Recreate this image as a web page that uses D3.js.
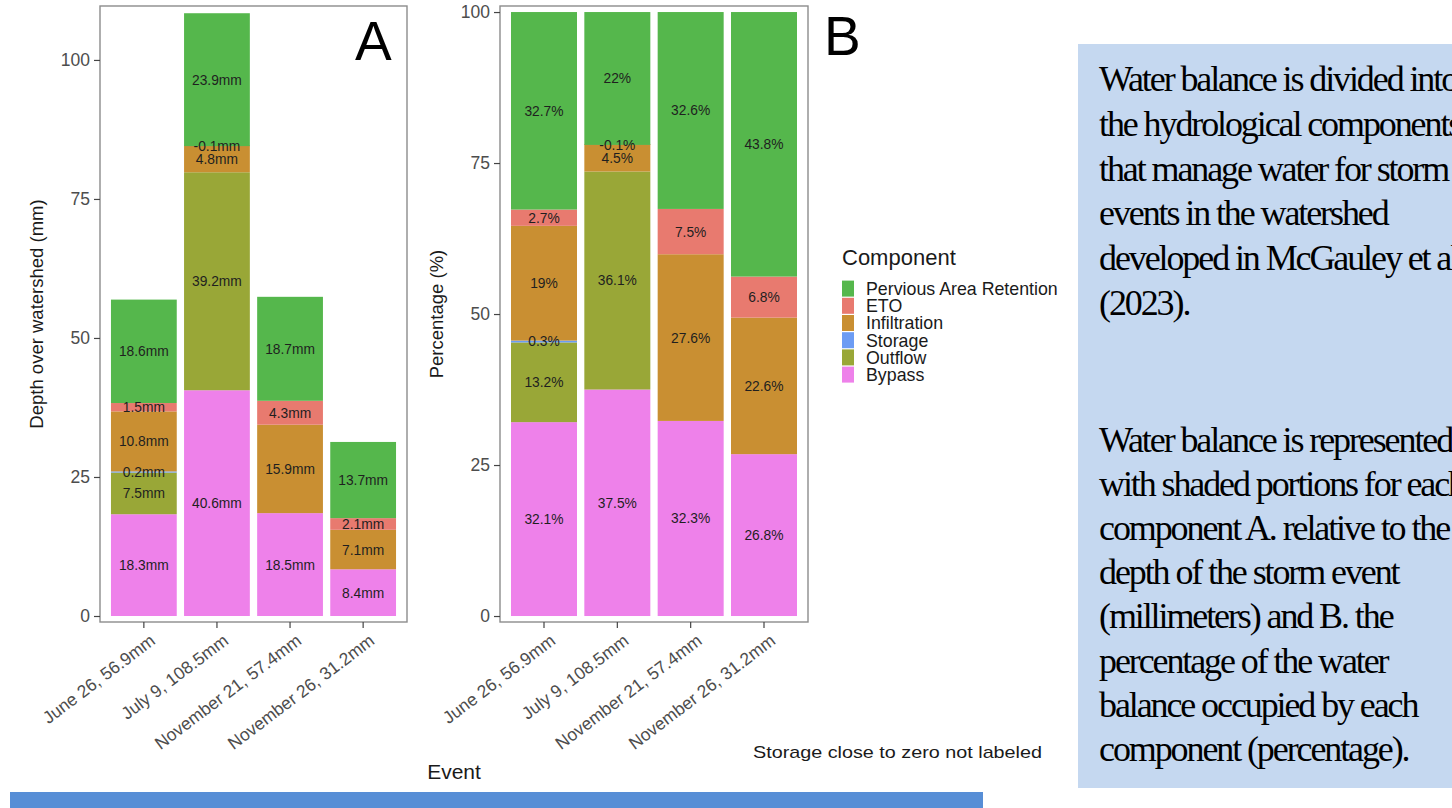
<!DOCTYPE html>
<html>
<head>
<meta charset="utf-8">
<script src="https://cdn.jsdelivr.net/npm/d3@7"></script>
<style>
  html, body { margin: 0; padding: 0; background: #ffffff; }
  svg { display: block; }
</style>
</head>
<body>
<svg id="fig" width="1452" height="808"></svg>
<script>
// ---- Data -------------------------------------------------------------
const events = ["June 26, 56.9mm", "July 9, 108.5mm", "November 21, 57.4mm", "November 26, 31.2mm"];

// legend order (top to bottom) and stacking order (bottom to top)
const components = ["Pervious Area Retention", "ETO", "Infiltration", "Storage", "Outflow", "Bypass"];
const stackOrder = ["Bypass", "Outflow", "Storage", "Infiltration", "ETO", "Pervious Area Retention"];

// depth over watershed (mm); 0 = storage/outflow close to zero, not labeled
const bypassMm       = [18.3, 40.6, 18.5, 8.4];
const outflowMm      = [7.5, 39.2, 0, 0];
const storageMm      = [0.2, 0, 0, 0];
const infiltrationMm = [10.8, 4.8, 15.9, 7.1];
const etoMm          = [1.5, -0.1, 4.3, 2.1];
const perviousMm     = [18.6, 23.9, 18.7, 13.7];

// share of the water balance (%)
const bypassPct       = [32.1, 37.5, 32.3, 26.8];
const outflowPct      = [13.2, 36.1, 0, 0];
const storagePct      = [0.3, 0, 0, 0];
const infiltrationPct = [19, 4.5, 27.6, 22.6];
const etoPct          = [2.7, -0.1, 7.5, 6.8];
const perviousPct     = [32.7, 22, 32.6, 43.8];

const yTicks = [0, 25, 50, 75, 100];

const colors = {
  "Pervious Area Retention": "#55B74C",
  "ETO": "#E87A6F",
  "Infiltration": "#C98F32",
  "Storage": "#6C9CF4",
  "Outflow": "#99A737",
  "Bypass": "#EE81EA"
};

// ---- Helpers ----------------------------------------------------------
function buildRows(series) {
  return events.map((ev, i) => {
    const row = { event: ev };
    stackOrder.forEach(k => { row[k] = series[k][i]; });
    return row;
  });
}

const depthRows = buildRows({
  "Bypass": bypassMm, "Outflow": outflowMm, "Storage": storageMm,
  "Infiltration": infiltrationMm, "ETO": etoMm, "Pervious Area Retention": perviousMm
});
const pctRows = buildRows({
  "Bypass": bypassPct, "Outflow": outflowPct, "Storage": storagePct,
  "Infiltration": infiltrationPct, "ETO": etoPct, "Pervious Area Retention": perviousPct
});

const svg = d3.select("#fig");
const SANS = "'Liberation Sans', Arial, Helvetica, sans-serif";
const SERIF = "'Liberation Serif', 'Times New Roman', serif";

function drawPanel(opts) {
  const { rows, x0, x1, yDomain, suffix, title, tag, tagX, tagY } = opts;
  const top = 6, bottom = 622;

  const x = d3.scaleBand().domain(events).range([x0, x1])
    .paddingInner(0.1).paddingOuter(0.15);
  const y = d3.scaleLinear().domain(yDomain).range([bottom, top]);

  const g = svg.append("g");

  // stacked bars
  const stacked = d3.stack().keys(stackOrder)(rows);
  const layers = g.append("g").selectAll("g").data(stacked).join("g")
    .attr("fill", d => colors[d.key]);
  layers.selectAll("rect").data(d => d.map(p => ({ p, key: d.key })))
    .join("rect")
    .attr("x", d => x(d.p.data.event))
    .attr("width", x.bandwidth())
    .attr("y", d => y(Math.max(d.p[0], d.p[1])))
    .attr("height", d => Math.abs(y(d.p[0]) - y(d.p[1])));

  // value labels at the middle of each segment
  const labels = [];
  stacked.forEach(s => s.forEach(p => {
    const v = p.data[s.key];
    if (v !== 0) labels.push({ event: p.data.event, mid: (p[0] + p[1]) / 2, text: v + suffix });
  }));
  g.append("g").selectAll("text").data(labels).join("text")
    .attr("x", d => x(d.event) + x.bandwidth() / 2)
    .attr("y", d => y(d.mid))
    .attr("dy", "0.36em")
    .attr("text-anchor", "middle")
    .style("font-family", SANS).style("font-size", "13.8px")
    .attr("fill", "#1f1f1f")
    .text(d => d.text);

  // panel border
  g.append("rect").attr("x", x0).attr("y", top)
    .attr("width", x1 - x0).attr("height", bottom - top)
    .attr("fill", "none").attr("stroke", "#8c8c8c").attr("stroke-width", 1.4);

  // y axis
  const ya = g.append("g").attr("transform", `translate(${x0},0)`)
    .call(d3.axisLeft(y).tickValues(yTicks).tickSize(6).tickPadding(4));
  ya.select(".domain").remove();
  ya.selectAll("line").attr("stroke", "#444").attr("stroke-width", 1.2);
  ya.selectAll("text").style("font-family", SANS).style("font-size", "17.5px").attr("fill", "#4d4d4d");

  // x axis ticks + rotated labels
  const xa = g.append("g").attr("transform", `translate(0,${bottom})`)
    .call(d3.axisBottom(x).tickSize(6).tickFormat(""));
  xa.select(".domain").remove();
  xa.selectAll("line").attr("stroke", "#444").attr("stroke-width", 1.2);

  g.append("g").selectAll("text").data(events).join("text")
    .attr("transform", d => `translate(${x(d) + x.bandwidth() / 2 + 5},${bottom + 11}) rotate(-37)`)
    .attr("text-anchor", "end")
    .attr("dy", "0.72em")
    .style("font-family", SANS).style("font-size", "17.5px")
    .attr("fill", "#4d4d4d")
    .text(d => d);

  // y title
  g.append("text")
    .attr("transform", `translate(${x0 - 63},${(top + bottom) / 2}) rotate(-90)`)
    .attr("text-anchor", "middle").attr("dy", "0.35em")
    .style("font-family", SANS).style("font-size", "18.5px").attr("fill", "#1a1a1a")
    .text(title);

  // panel tag
  svg.append("text").attr("x", tagX).attr("y", tagY)
    .style("font-family", SANS).style("font-size", "55px").attr("fill", "#000")
    .text(tag);
}

drawPanel({ rows: depthRows, x0: 100, x1: 407, yDomain: [-1.08, 109.7],
  suffix: "mm", title: "Depth over watershed (mm)", tag: "A", tagX: 355, tagY: 60 });
drawPanel({ rows: pctRows, x0: 500, x1: 808, yDomain: [-0.99, 101.0],
  suffix: "%", title: "Percentage (%)", tag: "B", tagX: 824, tagY: 55 });

// shared x title
svg.append("text").attr("x", 454).attr("y", 779).attr("text-anchor", "middle")
  .style("font-family", SANS).style("font-size", "21px").attr("fill", "#1a1a1a")
  .text("Event");

// note
svg.append("text").attr("x", 753).attr("y", 758)
  .attr("textLength", 289).attr("lengthAdjust", "spacingAndGlyphs")
  .style("font-family", SANS).style("font-size", "17px").attr("fill", "#1a1a1a")
  .text("Storage close to zero not labeled");

// legend
const legend = svg.append("g").attr("transform", "translate(842,0)");
legend.append("text").attr("x", 0).attr("y", 265)
  .style("font-family", SANS).style("font-size", "22px").attr("fill", "#1a1a1a")
  .text("Component");
const keyH = 17.2, keyTop = 280;
const items = legend.selectAll("g.item").data(components).join("g")
  .attr("class", "item")
  .attr("transform", (d, i) => `translate(0,${keyTop + i * keyH})`);
items.append("rect").attr("x", 0).attr("y", 0.6).attr("width", 12).attr("height", keyH - 1.2)
  .attr("fill", d => colors[d]);
items.append("text").attr("x", 24).attr("y", keyH / 2).attr("dy", "0.36em")
  .style("font-family", SANS).style("font-size", "17.8px").attr("fill", "#1a1a1a")
  .text(d => d);

// description panel (lines run past the right edge of the page)
svg.append("rect").attr("x", 1078).attr("y", 44).attr("width", 380).attr("height", 744)
  .attr("fill", "#C5D8F0");
const para1 = [
  "Water balance is divided into",
  "the hydrological components",
  "that manage water for storm",
  "events in the watershed",
  "developed in McGauley et al",
  "(2023)."
];
const para2 = [
  "Water balance is represented",
  "with shaded portions for each",
  "component A. relative to the",
  "depth of the storm event",
  "(millimeters) and B. the",
  "percentage of the water",
  "balance occupied by each",
  "component (percentage)."
];
function writeLines(lines, firstBaseline, step) {
  svg.append("g").selectAll("text").data(lines).join("text")
    .attr("x", 1099).attr("y", (d, i) => firstBaseline + i * step)
    .style("font-family", SERIF).style("font-size", "36px")
    .style("letter-spacing", "-2.1px").attr("fill", "#000")
    .text(d => d);
}
writeLines(para1, 91, 44.8);
writeLines(para2, 452, 44.1);

// bottom band
svg.append("rect").attr("x", 10).attr("y", 792).attr("width", 973).attr("height", 16)
  .attr("fill", "#578ED6");
</script>
</body>
</html>
